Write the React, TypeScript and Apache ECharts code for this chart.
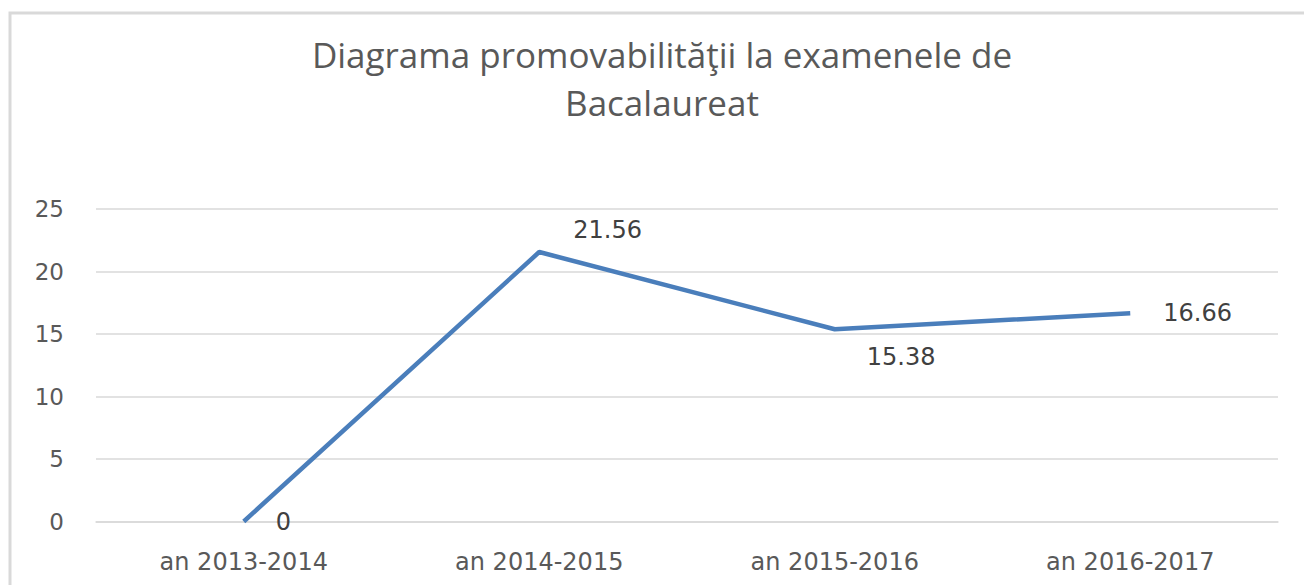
import React, { useEffect, useRef } from "react";
import * as echarts from "echarts";

const titleLines = ["Diagrama promovabilităţii la examenele de", "Bacalaureat"];
const categories = ["an 2013-2014", "an 2014-2015", "an 2015-2016", "an 2016-2017"];
const values = [0, 21.56, 15.38, 16.66];
const labelPositions = ["right", "right", "right", "right"];
const labelOffsets = [[26, 0], [28, -22], [26, 28], [27, 0]];
const yMin = 0;
const yMax = 25;
const yInterval = 5;

export default function App() {
  const ref = useRef<HTMLDivElement>(null);
  useEffect(() => {
    if (!ref.current) return;
    const chart = echarts.init(ref.current, null, { renderer: "svg" });
    const titleTops = [37, 85];
    chart.setOption({
      animation: false,
      backgroundColor: "#ffffff",
      title: titleLines.map((t, i) => ({
        text: t,
        left: 662,
        top: titleTops[i],
        padding: 0,
        textAlign: "center",
        textStyle: {
          fontFamily: "Open Sans",
          fontSize: 35,
          fontWeight: "normal",
          color: "#595959",
          lineHeight: 35,
        },
      })),
      graphic: [
        {
          type: "rect",
          shape: { x: 10, y: 13, width: 1310, height: 600 },
          style: { fill: "none", stroke: "#d9d9d9", lineWidth: 3 },
          silent: true,
          z: 0,
        },
      ],
      grid: { left: 96, right: 26, top: 209, bottom: 63.5, containLabel: false },
      xAxis: {
        type: "category",
        data: categories,
        boundaryGap: true,
        axisLine: { show: true, lineStyle: { color: "#d9d9d9", width: 1.5 } },
        axisTick: { show: false },
        axisLabel: {
          fontFamily: "DejaVu Sans",
          fontSize: 24,
          color: "#595959",
          margin: 28,
        },
      },
      yAxis: {
        type: "value",
        min: yMin,
        max: yMax,
        interval: yInterval,
        axisLine: { show: false },
        axisTick: { show: false },
        splitLine: { lineStyle: { color: "#d9d9d9", width: 1.5 } },
        axisLabel: {
          fontFamily: "DejaVu Sans",
          fontSize: 23,
          color: "#595959",
          margin: 32,
        },
      },
      series: [
        {
          type: "line",
          data: values.map((v, i) => ({
            value: v,
            label: {
              show: true,
              position: labelPositions[i],
              offset: labelOffsets[i],
              fontFamily: "DejaVu Sans",
              fontSize: 24,
              color: "#404040",
            },
          })),
          showSymbol: true,
          symbol: "circle",
          symbolSize: 2,
          lineStyle: { color: "#4a7ebb", width: 4.5 },
          itemStyle: { color: "rgba(74,126,187,0)", borderWidth: 0 },
        },
      ],
    });
    return () => chart.dispose();
  }, []);
  return (
    <div
      ref={ref}
      style={{ position: "fixed", left: 0, top: 0, width: 1304, height: 585 }}
    />
  );
}
